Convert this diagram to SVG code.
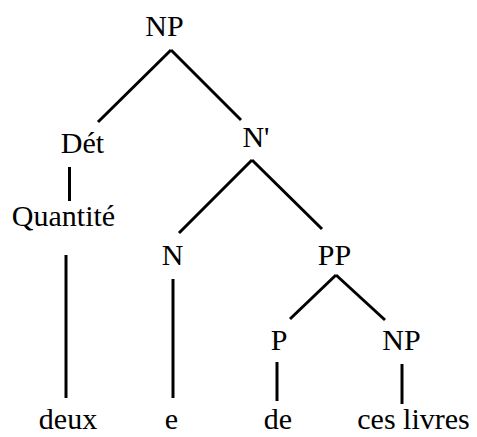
<svg xmlns="http://www.w3.org/2000/svg" width="477" height="437" viewBox="0 0 477 437">
<style>
text{font-family:"Liberation Serif","Times New Roman",serif;font-size:30px;fill:#000;text-anchor:middle}
line{stroke:#000;stroke-width:3;stroke-linecap:butt}
</style>
<rect width="477" height="437" fill="#fff"/>
<g id="connectors">
<line x1="171" y1="50" x2="98" y2="122"/>
<line x1="171" y1="50" x2="241" y2="120"/>
<line x1="69.5" y1="167" x2="69.5" y2="201"/>
<line x1="252" y1="160" x2="179" y2="233"/>
<line x1="252" y1="160" x2="322" y2="229"/>
<line x1="66" y1="255" x2="66" y2="398"/>
<line x1="173" y1="279" x2="173" y2="398"/>
<line x1="336" y1="275" x2="290" y2="319"/>
<line x1="336" y1="275" x2="385" y2="320"/>
<line x1="277" y1="362" x2="277" y2="401"/>
<line x1="402" y1="364" x2="402" y2="404"/>
</g>
<g id="np-root"><text x="164.5" y="36">NP</text></g>
<g id="det"><text x="82.5" y="153">Dét</text></g>
<g id="nbar"><text x="256" y="147">N'</text></g>
<g id="quantite"><text x="63.5" y="226">Quantité</text></g>
<g id="n"><text x="172.5" y="265">N</text></g>
<g id="pp"><text x="334.5" y="265">PP</text></g>
<g id="p"><text x="279" y="350">P</text></g>
<g id="np2"><text x="401.5" y="350">NP</text></g>
<g id="deux"><text x="68" y="429">deux</text></g>
<g id="e"><text x="171.5" y="429">e</text></g>
<g id="de"><text x="278" y="429">de</text></g>
<g id="ces-livres"><text x="413.5" y="429">ces livres</text></g>
</svg>
